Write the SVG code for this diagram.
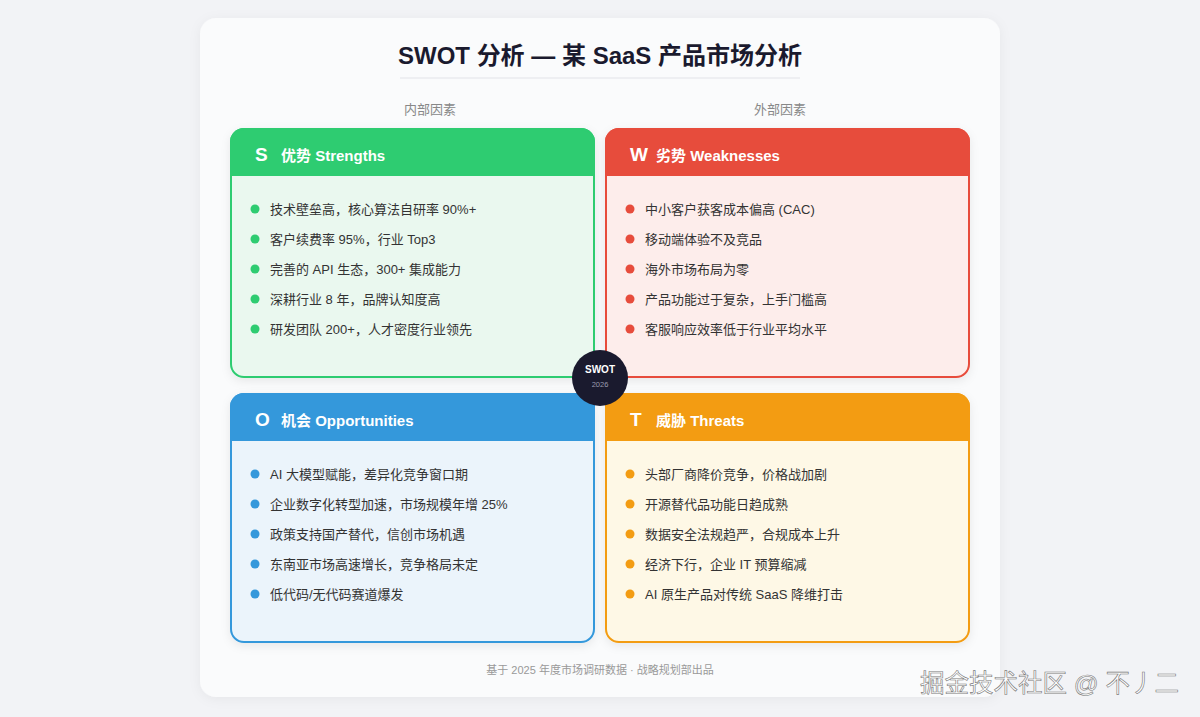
<svg xmlns="http://www.w3.org/2000/svg" width="1200" height="717" viewBox="0 0 1200 717">
<defs>
<style>
text{font-family:"Liberation Sans","Noto Sans CJK SC",sans-serif;}
.title{font-size:24px;font-weight:bold;fill:#1a1a2e;text-anchor:middle;}
.axis{font-size:13px;fill:#888;text-anchor:middle;}
.letter{font-size:19px;font-weight:bold;fill:#fff;}
.head{font-size:15px;font-weight:bold;fill:#fff;}
.item{font-size:13px;fill:#333;}
.foot{font-size:11px;fill:#999;text-anchor:middle;}
.wm{font-size:24.5px;fill:#fff;stroke:#777;stroke-width:0.6px;}
</style>
<filter id="sh" x="-10%" y="-10%" width="120%" height="130%">
<feDropShadow dx="0" dy="3" stdDeviation="5" flood-color="#000" flood-opacity="0.08"/>
</filter>
<filter id="cardsh" x="-5%" y="-5%" width="110%" height="110%">
<feDropShadow dx="0" dy="2" stdDeviation="6" flood-color="#000" flood-opacity="0.05"/>
</filter>
<clipPath id="cS"><rect x="230" y="128" width="365" height="250" rx="14"/></clipPath>
<clipPath id="cW"><rect x="605" y="128" width="365" height="250" rx="14"/></clipPath>
<clipPath id="cO"><rect x="230" y="393" width="365" height="250" rx="14"/></clipPath>
<clipPath id="cT"><rect x="605" y="393" width="365" height="250" rx="14"/></clipPath>
</defs>
<rect width="1200" height="717" fill="#f2f3f6"/>
<rect x="200" y="18" width="800" height="679" rx="16" fill="#fafbfc" filter="url(#cardsh)"/>
<text class="title" x="600" y="64">SWOT 分析 — 某 SaaS 产品市场分析</text>
<line x1="400" y1="78" x2="800" y2="78" stroke="#e2e3e8" stroke-width="1"/>
<text class="axis" x="430" y="114">内部因素</text>
<text class="axis" x="780" y="114">外部因素</text>

<g id="strengths">
<rect x="230" y="128" width="365" height="250" rx="14" fill="#eaf8ef" filter="url(#sh)"/>
<rect x="230" y="128" width="365" height="48" fill="#2ecc71" clip-path="url(#cS)"/>
<rect x="231" y="129" width="363" height="248" rx="13" fill="none" stroke="#2ecc71" stroke-width="2"/>
<text class="letter" x="255" y="161">S</text>
<text class="head" x="281" y="161">优势 Strengths</text>
<g fill="#2ecc71"><circle cx="255" cy="209" r="4.5"/><circle cx="255" cy="239" r="4.5"/><circle cx="255" cy="269" r="4.5"/><circle cx="255" cy="299" r="4.5"/><circle cx="255" cy="329" r="4.5"/></g>
<text class="item" x="270" y="214">技术壁垒高，核心算法自研率 90%+</text>
<text class="item" x="270" y="244">客户续费率 95%，行业 Top3</text>
<text class="item" x="270" y="274">完善的 API 生态，300+ 集成能力</text>
<text class="item" x="270" y="304">深耕行业 8 年，品牌认知度高</text>
<text class="item" x="270" y="334">研发团队 200+，人才密度行业领先</text>
</g>

<g id="weaknesses">
<rect x="605" y="128" width="365" height="250" rx="14" fill="#fdedeb" filter="url(#sh)"/>
<rect x="605" y="128" width="365" height="48" fill="#e74c3c" clip-path="url(#cW)"/>
<rect x="606" y="129" width="363" height="248" rx="13" fill="none" stroke="#e74c3c" stroke-width="2"/>
<text class="letter" x="630" y="161">W</text>
<text class="head" x="656" y="161">劣势 Weaknesses</text>
<g fill="#e74c3c"><circle cx="630" cy="209" r="4.5"/><circle cx="630" cy="239" r="4.5"/><circle cx="630" cy="269" r="4.5"/><circle cx="630" cy="299" r="4.5"/><circle cx="630" cy="329" r="4.5"/></g>
<text class="item" x="645" y="214">中小客户获客成本偏高 (CAC)</text>
<text class="item" x="645" y="244">移动端体验不及竞品</text>
<text class="item" x="645" y="274">海外市场布局为零</text>
<text class="item" x="645" y="304">产品功能过于复杂，上手门槛高</text>
<text class="item" x="645" y="334">客服响应效率低于行业平均水平</text>
</g>

<g id="opportunities">
<rect x="230" y="393" width="365" height="250" rx="14" fill="#ebf4fb" filter="url(#sh)"/>
<rect x="230" y="393" width="365" height="48" fill="#3498db" clip-path="url(#cO)"/>
<rect x="231" y="394" width="363" height="248" rx="13" fill="none" stroke="#3498db" stroke-width="2"/>
<text class="letter" x="255" y="426">O</text>
<text class="head" x="281" y="426">机会 Opportunities</text>
<g fill="#3498db"><circle cx="255" cy="474" r="4.5"/><circle cx="255" cy="504" r="4.5"/><circle cx="255" cy="534" r="4.5"/><circle cx="255" cy="564" r="4.5"/><circle cx="255" cy="594" r="4.5"/></g>
<text class="item" x="270" y="479">AI 大模型赋能，差异化竞争窗口期</text>
<text class="item" x="270" y="509">企业数字化转型加速，市场规模年增 25%</text>
<text class="item" x="270" y="539">政策支持国产替代，信创市场机遇</text>
<text class="item" x="270" y="569">东南亚市场高速增长，竞争格局未定</text>
<text class="item" x="270" y="599">低代码/无代码赛道爆发</text>
</g>

<g id="threats">
<rect x="605" y="393" width="365" height="250" rx="14" fill="#fef8e6" filter="url(#sh)"/>
<rect x="605" y="393" width="365" height="48" fill="#f39c12" clip-path="url(#cT)"/>
<rect x="606" y="394" width="363" height="248" rx="13" fill="none" stroke="#f39c12" stroke-width="2"/>
<text class="letter" x="630" y="426">T</text>
<text class="head" x="656" y="426">威胁 Threats</text>
<g fill="#f39c12"><circle cx="630" cy="474" r="4.5"/><circle cx="630" cy="504" r="4.5"/><circle cx="630" cy="534" r="4.5"/><circle cx="630" cy="564" r="4.5"/><circle cx="630" cy="594" r="4.5"/></g>
<text class="item" x="645" y="479">头部厂商降价竞争，价格战加剧</text>
<text class="item" x="645" y="509">开源替代品功能日趋成熟</text>
<text class="item" x="645" y="539">数据安全法规趋严，合规成本上升</text>
<text class="item" x="645" y="569">经济下行，企业 IT 预算缩减</text>
<text class="item" x="645" y="599">AI 原生产品对传统 SaaS 降维打击</text>
</g>

<g id="center">
<circle cx="600" cy="378" r="28" fill="#1a1a2e"/>
<text x="600" y="373" font-size="10" font-weight="bold" fill="#fff" text-anchor="middle">SWOT</text>
<text x="600" y="387" font-size="7.5" fill="#9a9aae" text-anchor="middle">2026</text>
</g>

<text class="foot" x="600" y="674">基于 2025 年度市场调研数据 · 战略规划部出品</text>
<text class="wm" x="920" y="692">掘金技术社区 @ 不丿二</text>
</svg>
